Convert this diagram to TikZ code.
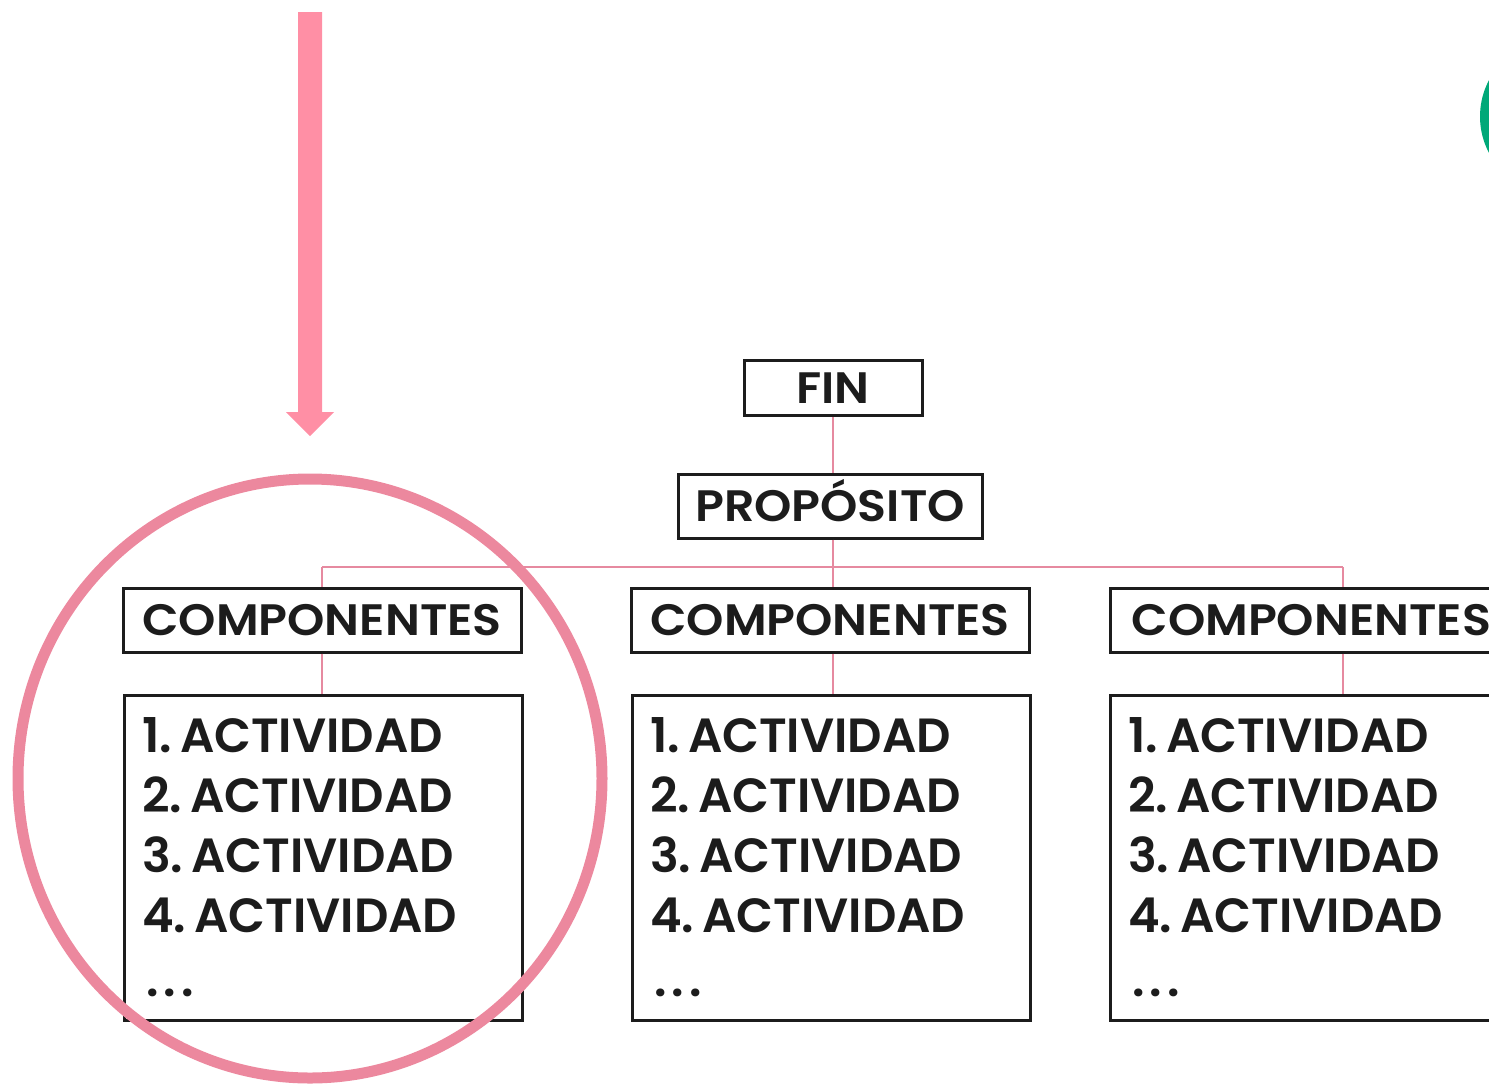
\documentclass[tikz,border=0pt]{standalone}
\usepackage{fontspec}
\setmainfont{Poppins}[BoldFont={Poppins SemiBold}]
\definecolor{pinkarrow}{RGB}{255,143,165}
\definecolor{pinkcirc}{RGB}{236,136,158}
\definecolor{pinkline}{RGB}{230,138,160}
\definecolor{greenc}{RGB}{0,168,120}
\definecolor{ink}{RGB}{28,28,28}
\begin{document}
\begin{tikzpicture}[x=1pt,y=-1pt,
  box/.style={draw=ink,line width=3pt,inner sep=0pt,rectangle},
  lbl/.style={font=\fontsize{44}{52}\selectfont\bfseries\addfontfeatures{FakeStretch=1.08},text=ink,inner sep=0pt,text height=31pt,text depth=0pt},
  act/.style={font=\fontsize{48}{56}\selectfont\bfseries,text=ink,inner sep=0pt,anchor=base west},
  conn/.style={draw=pinkline,line width=2.5pt}]
\useasboundingbox (0,0) rectangle (1489,1088);
\clip (0,0) rectangle (1489,1088);
% pink arrow
\fill[pinkarrow] (298,12) -- (322,12) -- (322,412) -- (334,412) -- (310,436) -- (286,412) -- (298,412) -- cycle;
% green circle
\fill[greenc] (1558,116.5) circle (78);
% top boxes
\node[box,lbl,minimum width=178,minimum height=55] (fin) at (833,388) {FIN};
\node[box,lbl,minimum width=304,minimum height=64] (prop) at (830,506) {PROPÓSITO};
% component boxes
\node[box,lbl,minimum width=398,minimum height=64] (c1) at (322,620) {COMPONENTES};
\node[box,lbl,minimum width=398,minimum height=64] (c2) at (830,620) {COMPONENTES};
\node[box,lbl,minimum width=398,minimum height=64,anchor=west] (c3) at (1109,620) {\hspace*{21pt}COMPONENTES\hspace*{20pt}};
% activity boxes
\node[box,minimum width=398,minimum height=325,anchor=north west] (a1) at (123,694) {};
\node[box,minimum width=398,minimum height=325,anchor=north west] (a2) at (631,694) {};
\node[box,minimum width=398,minimum height=325,anchor=north west] (a3) at (1109,694) {};
\foreach \b/\x in {1/142,2/650,3/1128}{
  \foreach \i in {1,2,3,4}{
    \node[act] (t\b\i) at (\x,{752+60*(\i-1)}) {\i.\,ACTIVIDAD};
  }
  \node[act] (d\b) at (\x+4,996) {.\hspace{5pt}.\hspace{5pt}.};
}
% connectors
\coordinate (hl) at (322,567);
\coordinate (hm) at (833,567);
\coordinate (hr) at (1343,567);
\draw[conn] (fin.south -| hm) -- (prop.north -| hm);
\draw[conn] (prop.south -| hm) -- (c2.north -| hm);
\draw[conn] (hl) -- (hr);
\draw[conn] (hl) -- (c1.north -| hl);
\draw[conn] (hr) -- (c3.north -| hr);
\draw[conn] (c1.south -| hl) -- (a1.north -| hl);
\draw[conn] (c2.south -| hm) -- (a2.north -| hm);
\draw[conn] (c3.south -| hr) -- (a3.north -| hr);
% highlight circle
\draw[pinkcirc,line width=11pt] (310,778.5) ellipse [x radius=292,y radius=299.5];
\end{tikzpicture}
\end{document}
